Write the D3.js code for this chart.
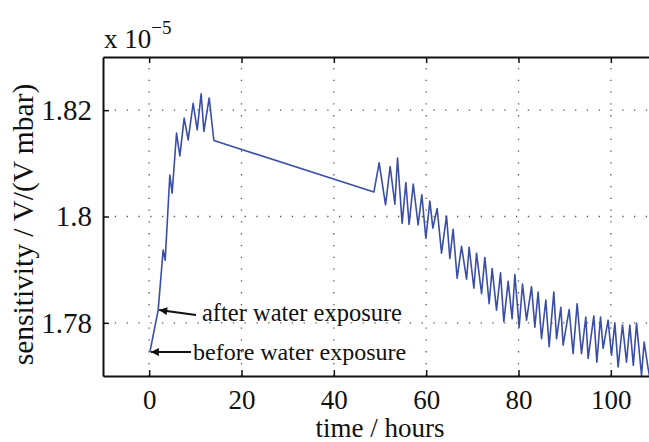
<!DOCTYPE html>
<html>
<head>
<meta charset="utf-8">
<script src="https://cdn.jsdelivr.net/npm/d3@7"></script>
<style>
  html, body { margin: 0; padding: 0; background: #fff; overflow: hidden; }
  svg { display: block; }
  svg text { font-family: "Liberation Serif", "Times New Roman", serif !important; fill: #111; }
</style>
</head>
<body>
<svg id="chart" width="649" height="442"></svg>
<script>
// time in hours
const times = [
  0.15, 1.95, 3.03, 3.47, 4.48, 4.98, 5.93, 6.65, 7.58, 8.45, 9.53, 10.40, 11.26, 11.85, 13.0, 14.01,
  48.67, 49.82, 51.2, 52.2, 53.22, 53.8, 54.8, 55.6, 56.3, 57.2, 58.26, 59.06, 59.93, 60.8, 61.45,
  62.38, 63.33, 64.41, 65.13, 65.84, 66.71, 67.66, 68.75, 69.31, 70.33, 70.91, 72.0,
  72.71, 73.64, 74.29, 75.24, 76.11, 76.82, 77.76, 78.62, 79.21, 80.14, 80.87, 81.74,
  82.82, 83.54, 84.25, 84.99, 85.92, 86.64, 87.65, 88.24, 89.17, 89.67, 90.97, 91.83,
  92.70, 93.65, 94.58, 95.08, 96.32, 96.97, 97.77, 98.33, 99.41, 100.15, 100.87, 101.58,
  102.53, 103.4, 104.11, 104.87, 105.57, 106.65, 107.21, 108.08, 108.6
];
// sensitivity x 1e-5 V/(V mbar)
const sensitivity = [
  1.7745, 1.7824, 1.7937, 1.7918, 1.8078, 1.8044, 1.8157, 1.8114, 1.8185, 1.8144, 1.8213, 1.8163, 1.8231, 1.8160, 1.8223, 1.8143,
  1.8046, 1.8101, 1.8022, 1.8094, 1.8023, 1.8110, 1.7987, 1.8064, 1.7985, 1.8061, 1.7984, 1.8041, 1.7959, 1.8029, 1.7978,
  1.8015, 1.7931, 1.8001, 1.7921, 1.7976, 1.7884, 1.7944, 1.7882, 1.7942, 1.7865, 1.7931, 1.7855,
  1.7923, 1.7836, 1.7902, 1.7824, 1.7894, 1.7802, 1.7878, 1.7808, 1.7891, 1.7792, 1.7873, 1.7805,
  1.7868, 1.7792, 1.7858, 1.7770, 1.7843, 1.7755, 1.7858, 1.7770, 1.7829, 1.7758, 1.7825, 1.7742,
  1.7836, 1.7742, 1.7811, 1.7733, 1.7813, 1.7726, 1.7811, 1.7752, 1.7805, 1.7739, 1.7800, 1.7717,
  1.7796, 1.7726, 1.7796, 1.7720, 1.7799, 1.7701, 1.7764, 1.7714, 1.7690
];
const xTicks = [0, 20, 40, 60, 80, 100];
const yTicks = [1.78, 1.80, 1.82];
const yTickLabels = ["1.78", "1.8", "1.82"];
const xLabel = "time / hours";
const yLabel = "sensitivity / V/(V mbar)";
const annotations = [
  { text: "after water exposure", t: 1.95, v: 1.7824 },
  { text: "before water exposure", t: 0.15, v: 1.7745 }
];

const FONT = "Liberation Serif";
const svg = d3.select("#chart");
const L = 103, R = 657, T = 57, B = 376;
const x = d3.scaleLinear().domain([-10, 110]).range([L, R]);
const y = d3.scaleLinear().domain([1.77, 1.83]).range([B, T]);

const defs = svg.append("defs");
defs.append("clipPath").attr("id", "clip")
  .append("rect").attr("x", L).attr("y", T).attr("width", R - L).attr("height", B - T);

// grid
const grid = svg.append("g").attr("stroke", "#555").attr("stroke-width", 1.3)
  .attr("stroke-dasharray", "1.3 10.5");
grid.selectAll("line.vx").data(xTicks).join("line")
  .attr("x1", d => x(d)).attr("x2", d => x(d)).attr("y1", B).attr("y2", T);
grid.selectAll("line.hy").data(yTicks).join("line")
  .attr("y1", d => y(d)).attr("y2", d => y(d)).attr("x1", L).attr("x2", R);

// data line
const line = d3.line().x((d, i) => x(times[i])).y(d => y(d));
svg.append("path").datum(sensitivity)
  .attr("clip-path", "url(#clip)")
  .attr("fill", "none").attr("stroke", "#3a4ea8").attr("stroke-width", 1.6)
  .attr("stroke-linejoin", "round")
  .attr("d", line);

// axes (MATLAB style box with inward ticks)
const xAxisB = d3.axisBottom(x).tickValues(xTicks).tickSizeInner(-6).tickSizeOuter(0).tickPadding(14);
const gx = svg.append("g").attr("transform", `translate(0,${B})`).call(xAxisB);
const xAxisT = d3.axisTop(x).tickValues(xTicks).tickSizeInner(-6).tickSizeOuter(0).tickFormat("");
const gxt = svg.append("g").attr("transform", `translate(0,${T})`).call(xAxisT);
const yAxisL = d3.axisLeft(y).tickValues(yTicks).tickSizeInner(-6).tickSizeOuter(0)
  .tickPadding(11).tickFormat((d, i) => yTickLabels[i]);
const gy = svg.append("g").attr("transform", `translate(${L},0)`).call(yAxisL);

[gx, gxt, gy].forEach(g => {
  g.attr("font-family", FONT);
  g.select(".domain").attr("stroke", "#111").attr("stroke-width", 2);
  g.selectAll(".tick line").attr("stroke", "#111").attr("stroke-width", 1.5);
  g.selectAll(".tick text").style("font-family", FONT).attr("fill", "#111");
});
gx.selectAll(".tick text").attr("font-size", 27);
gy.selectAll(".tick text").attr("font-size", 29);

// axis labels
svg.append("text").attr("x", x(50)).attr("y", 437).attr("text-anchor", "middle")
  .style("font-family", FONT).attr("font-size", 27).text(xLabel);
svg.append("text").attr("transform", `translate(33,${(T + B) / 2 + 8}) rotate(-90)`)
  .attr("text-anchor", "middle").style("font-family", FONT).attr("font-size", 29.5).text(yLabel);

// exponent
const ex = svg.append("text").attr("x", 104).attr("y", 48).style("font-family", FONT).attr("font-size", 27);
ex.append("tspan").text("x 10");
ex.append("tspan").attr("dy", -14).attr("font-size", 19).text("\u22125");

// annotations with arrows
defs.append("marker").attr("id", "arr").attr("viewBox", "0 0 10 10")
  .attr("refX", 10).attr("refY", 5).attr("markerWidth", 11).attr("markerHeight", 8)
  .attr("markerUnits", "userSpaceOnUse").attr("orient", "auto")
  .append("path").attr("d", "M0,0 L10,5 L0,10 Z").attr("fill", "#111");

const ann0 = annotations[0], ann1 = annotations[1];
svg.append("line").attr("x1", 196).attr("y1", 315).attr("x2", x(ann0.t) + 1).attr("y2", y(ann0.v))
  .attr("stroke", "#111").attr("stroke-width", 2).attr("marker-end", "url(#arr)");
svg.append("text").attr("x", 202).attr("y", 321).style("font-family", FONT).attr("font-size", 24.5).text(ann0.text);
svg.append("line").attr("x1", 191).attr("y1", y(ann1.v)).attr("x2", x(ann1.t) + 1).attr("y2", y(ann1.v))
  .attr("stroke", "#111").attr("stroke-width", 2).attr("marker-end", "url(#arr)");
svg.append("text").attr("x", 193).attr("y", 360).style("font-family", FONT).attr("font-size", 24).text(ann1.text);
</script>
</body>
</html>
